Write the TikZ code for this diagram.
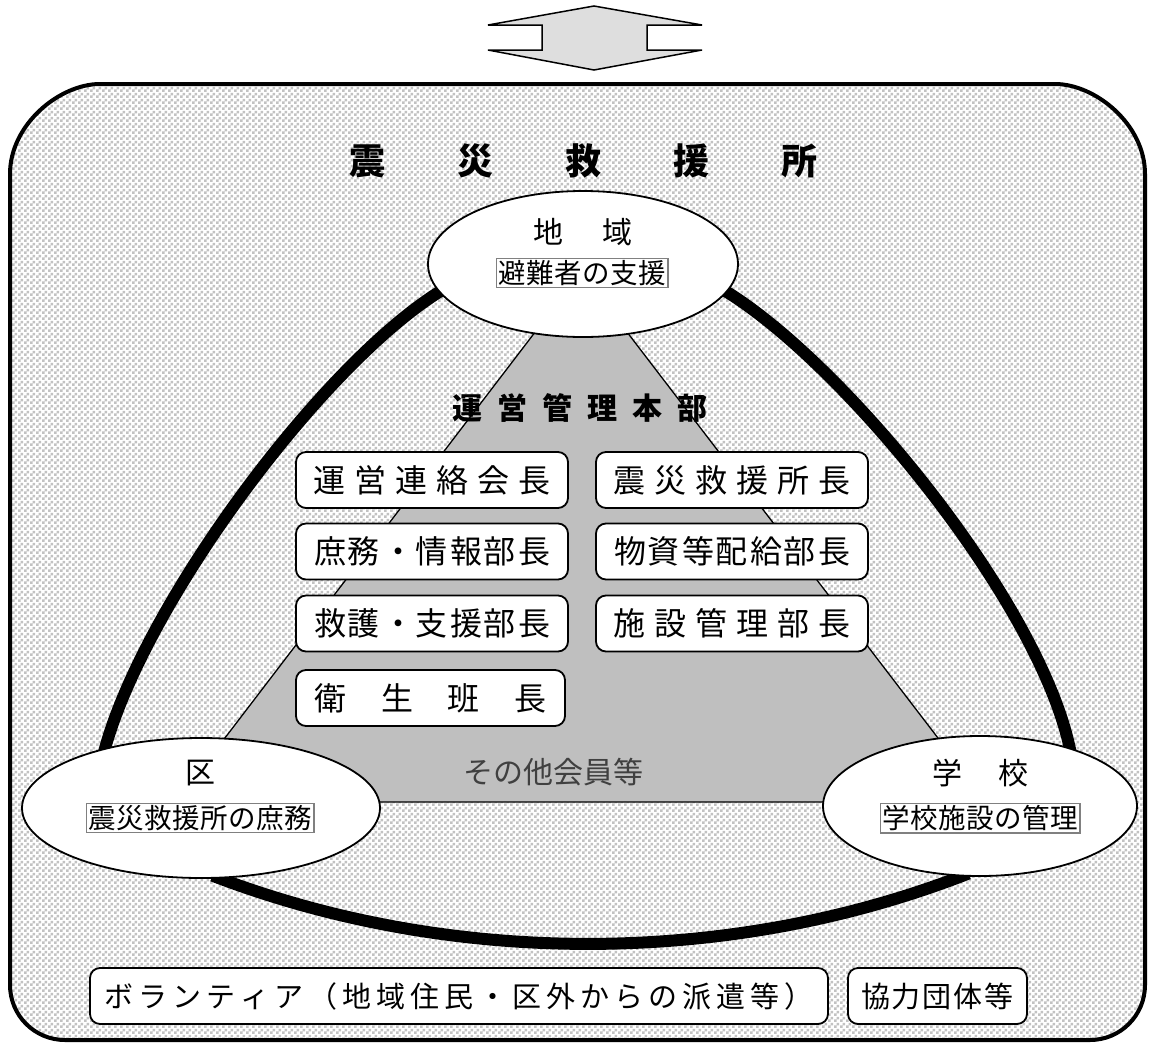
\documentclass[tikz,border=0pt]{standalone}
\usepackage{fontspec}
\setmainfont{Noto Sans CJK JP}
\usetikzlibrary{shapes.geometric,patterns}
\makeatletter
\newcommand\spr[2]{\def\spr@g{#1}\spr@a#2\relax}
\def\spr@a#1{#1\spr@b}
\def\spr@b#1{\ifx\relax#1\else\hspace*{\spr@g}#1\expandafter\spr@b\fi}
\makeatother
\pgfdeclarepatternformonly{checks}{\pgfpointorigin}{\pgfqpoint{6pt}{6pt}}{\pgfqpoint{6pt}{6pt}}{%
  \pgfpathrectangle{\pgfpointorigin}{\pgfqpoint{3pt}{3pt}}%
  \pgfpathrectangle{\pgfqpoint{3pt}{3pt}}{\pgfqpoint{3pt}{3pt}}%
  \pgfusepath{fill}}
\definecolor{chk}{gray}{0.76}
\definecolor{pyr}{gray}{0.75}
\definecolor{arr}{gray}{0.87}
\definecolor{tgray}{gray}{0.25}
\pgfdeclarelayer{back}
\pgfsetlayers{back,main}
\begin{document}
\begin{tikzpicture}[x=1pt,y=-1pt,
  rbox/.style={draw,line width=1.8pt,fill=white,rounded corners=10pt,minimum width=272pt,minimum height=56pt,inner sep=0pt,font=\fontsize{32}{36}\selectfont},
  lbl/.style={inner sep=0pt,font=\fontsize{30}{34}\selectfont},
  subbox/.style={draw=gray,line width=1.5pt,fill=white,inner sep=2pt,font=\fontsize{27.5}{31}\selectfont},
  oval/.style={ellipse,draw,line width=1.8pt,fill=white,inner sep=0pt},
  bond/.style={line width=12pt,shorten <=-8pt,shorten >=-8pt},
  ]
\useasboundingbox (0,0) rectangle (1152,1045);

\begin{pgfonlayer}{back}
\fill[white] (0,0) rectangle (1152,1045);
% outer frame
\draw[line width=4pt,pattern=checks,pattern color=chk,preaction={fill=white}]
  (10,174) .. controls (10,124.3) and (59.7,84) .. (100,84)
  -- (1055,84) .. controls (1095.3,84) and (1145,124.3) .. (1145,174)
  -- (1145,985) .. controls (1145,1015.4) and (1120.4,1040) .. (1090,1040)
  -- (65,1040) .. controls (34.6,1040) and (10,1015.4) .. (10,985) -- cycle;
% pyramid
\draw[line width=1.3pt,fill=pyr,line join=round] (581,272) -- (176,802) -- (987,802) -- cycle;
\end{pgfonlayer}

% top double arrow
\draw[line width=1.5pt,fill=arr,line join=miter]
  (488,25) -- (594,6) -- (702,25) -- (647,25) -- (647,50) -- (702,50)
  -- (594,70) -- (488,50) -- (542,50) -- (542,25) -- cycle;

% title
\node[inner sep=0pt,font=\fontsize{36}{40}\selectfont\bfseries] (title) at (583,161) {\spr{72pt}{震災救援所}};

% ellipses
\node[oval,minimum width=310pt,minimum height=146pt] (chiiki) at (583,264) {};
\node[lbl] (chiikiT) at (583,232) {\spr{39pt}{地域}};
\node[subbox] (chiikiS) at (582,273) {\spr{0.5pt}{避難者の支援}};

\node[oval,minimum width=358pt,minimum height=140pt] (ku) at (201,808) {};
\node[lbl] (kuT) at (200,773) {区};
\node[subbox] (kuS) at (200,818) {\spr{0.5pt}{震災救援所の庶務}};

\node[oval,minimum width=314pt,minimum height=140pt] (gk) at (980,806) {};
\node[lbl] (gkT) at (980,773) {\spr{36pt}{学校}};
\node[subbox] (gkS) at (980,818) {\spr{0.5pt}{学校施設の管理}};

% headquarters
\node[inner sep=0pt,font=\fontsize{30}{34}\selectfont\bfseries] (hq) at (580,408) {\spr{15pt}{運営管理本部}};
\node[rbox] (b1) at (432,480) {\spr{9pt}{運営連絡会長}};
\node[rbox] (b2) at (432,551.5) {\spr{2pt}{庶務・情報部長}};
\node[rbox] (b3) at (432,623.5) {\spr{2pt}{救護・支援部長}};
\node[rbox,minimum width=269pt] (b4) at (430.5,698) {\spr{34.5pt}{衛生班長}};
\node[rbox] (c1) at (732,480) {\spr{9pt}{震災救援所長}};
\node[rbox] (c2) at (732,551.5) {\spr{2pt}{物資等配給部長}};
\node[rbox] (c3) at (732,623.5) {\spr{9pt}{施設管理部長}};
\node[inner sep=0pt,font=\fontsize{30}{34}\selectfont,text=tgray] (others) at (553,772) {その他会員等};

% bottom boxes
\node[rbox,minimum width=738pt,font=\fontsize{29}{33}\selectfont] (vol) at (459,996) {\spr{5pt}{ボランティア（地域住民・区外からの派遣等）}};
\node[rbox,minimum width=179pt,font=\fontsize{29}{33}\selectfont] (kyo) at (937.5,996) {\spr{2pt}{協力団体等}};

% thick bonds
\begin{pgfonlayer}{back}
\draw[bond] (chiiki.191) .. controls (325,359) and (140,608) .. (ku.148);
\draw[bond] (chiiki.-11) .. controls (842,359) and (1045,608) .. (gk.33);
\draw[bond] (ku.-75) .. controls (450,967) and (730,967) .. (gk.255);
\end{pgfonlayer}
\end{tikzpicture}
\end{document}
